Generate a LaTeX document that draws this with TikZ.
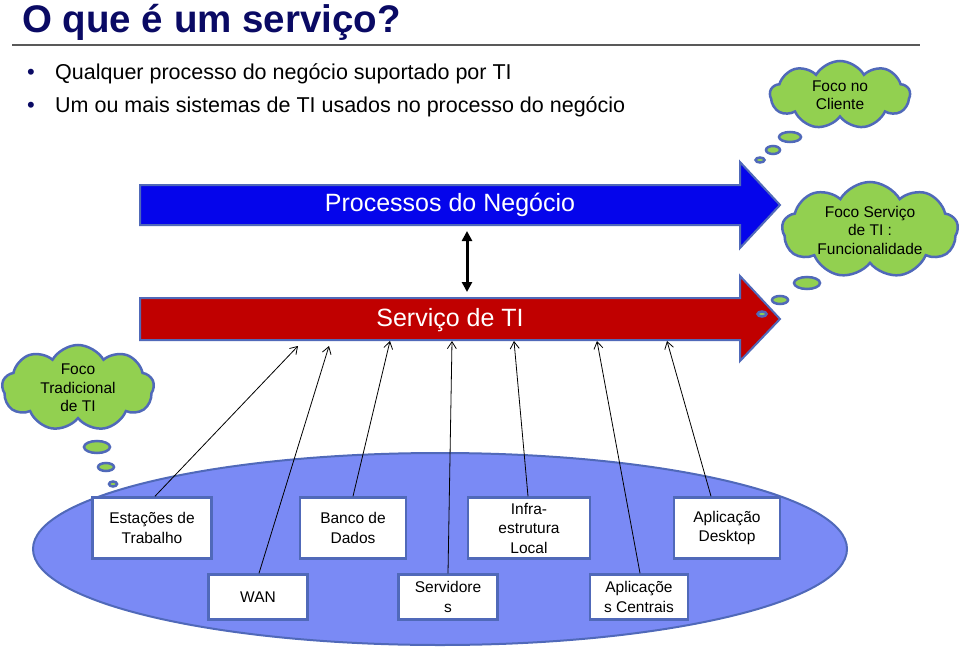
\documentclass[tikz,border=0pt]{standalone}
\usepackage{fontspec}
\setmainfont{Liberation Sans}
\usetikzlibrary{shapes.symbols,shapes.geometric,arrows.meta,calc}
\definecolor{titleblue}{RGB}{10,10,100}
\definecolor{procblue}{RGB}{5,5,235}
\definecolor{servred}{RGB}{192,0,0}
\definecolor{outl}{RGB}{80,105,185}
\definecolor{ellfill}{RGB}{122,138,245}
\definecolor{cloudgreen}{RGB}{146,208,80}
\tikzset{
  bigarrow/.style={draw=outl, line width=2pt, line join=miter},
  arrowtext/.style={text=white, font=\fontsize{25}{30}\selectfont, inner sep=0pt},
  thought/.style={cloud, cloud puffs=9, cloud puff arc=120, cloud ignores aspect, draw=outl, line width=2.5pt, fill=cloudgreen, align=center, inner sep=0pt, font=\fontsize{15.5}{18.5}\selectfont},
  bubble/.style={draw=outl, line width=2.5pt, fill=cloudgreen},
  compbox/.style={draw=outl, line width=2.5pt, fill=white, align=center, inner sep=0pt, font=\fontsize{15.5}{19.5}\selectfont},
  feed/.style={draw=black, line width=0.8pt, -{Straight Barb[length=7pt,width=9pt]}},
  bullettext/.style={anchor=base west, inner sep=0pt, font=\fontsize{21.5}{26}\selectfont},
  bulletdot/.style={anchor=base west, inner sep=0pt, text=titleblue, font=\fontsize{22}{26}\selectfont},
}
\begin{document}
\begin{tikzpicture}[x=1pt,y=-1pt]
\useasboundingbox (0,0) rectangle (960,647);
% title
\node[anchor=base west, inner sep=0pt, text=titleblue, font=\fontsize{38.5}{44}\selectfont\bfseries] (title) at (22,33) {O que é um serviço?};
\draw[line width=2pt, draw=black!65] (12,45) -- (920,45);
% bullets
\node[bulletdot] (b1dot) at (27,80) {•};
\node[bullettext] (b1) at (55,80) {Qualquer processo do negócio suportado por TI};
\node[bulletdot] (b2dot) at (27,113) {•};
\node[bullettext] (b2) at (55,113) {Um ou mais sistemas de TI usados no processo do negócio};
% business process arrow
\draw[bigarrow, fill=procblue] (140,185) -- (740,185) -- (740,162) -- (780,205) -- (740,248) -- (740,225) -- (140,225) -- cycle;
\node[arrowtext] (proc) at (450,205) {Processos do Negócio};
% IT service arrow
\draw[bigarrow, fill=servred] (140,298) -- (740,298) -- (740,276) -- (780,319) -- (740,361) -- (740,340) -- (140,340) -- cycle;
\node[arrowtext] (serv) at (450,320) {Serviço de TI};
% double arrow
\coordinate (dtop) at (467,231);
\coordinate (dbot) at (467,292);
\draw[line width=3pt, {Triangle[length=10pt,width=10pt]}-{Triangle[length=10pt,width=10pt]}] (dtop) -- (dbot);
% clouds
\node[thought, minimum width=140pt, minimum height=68pt] (c1) at (840,95) {Foco no\\Cliente};
\draw[bubble] (790,137) ellipse [x radius=11, y radius=5];
\draw[bubble] (773,150) ellipse [x radius=7, y radius=4];
\draw[bubble] (760,160) ellipse [x radius=4.5, y radius=2.5];
\node[thought, minimum width=176pt, minimum height=96pt] (c2) at (870,230) {Foco Serviço\\de TI :\\Funcionalidade};
\draw[bubble] (807,283) ellipse [x radius=13, y radius=6];
\draw[bubble] (780,300) ellipse [x radius=8, y radius=4];
\draw[bubble] (762,314) ellipse [x radius=4.5, y radius=2.5];
\node[thought, minimum width=152pt, minimum height=86pt] (c3) at (78,388) {Foco\\Tradicional\\de TI};
\draw[bubble] (97,447) ellipse [x radius=13, y radius=6];
\draw[bubble] (106,467) ellipse [x radius=8, y radius=4];
\draw[bubble] (113,484) ellipse [x radius=4, y radius=2.5];
% base ellipse
\draw[draw=outl, line width=2pt, fill=ellfill] (440,549) ellipse [x radius=407, y radius=96];
% component boxes
\node[compbox, minimum width=119pt, minimum height=61pt] (est) at (152,528) {Estações de\\Trabalho};
\node[compbox, minimum width=106pt, minimum height=61pt] (bd) at (353,528) {Banco de\\Dados};
\node[compbox, minimum width=122pt, minimum height=61pt] (inf) at (529,528) {Infra-\\estrutura\\Local};
\node[compbox, minimum width=106pt, minimum height=61pt] (desk) at (727,528) {Aplicação\\Desktop};
\node[compbox, minimum width=99pt, minimum height=45pt] (wan) at (258,597) {WAN};
\node[compbox, minimum width=99pt, minimum height=45pt] (srv) at (448,597) {Servidore\\s};
\node[compbox, minimum width=98pt, minimum height=45pt] (apc) at (639,597) {Aplicaçõe\\s Centrais};
% feed targets on service arrow
\coordinate (t1) at (298,346);
\coordinate (t2) at (329,346);
\coordinate (t3) at (390,341);
\coordinate (t4) at (452,341);
\coordinate (t5) at (514,341);
\coordinate (t6) at (597,341);
\coordinate (t7) at (667,341);
\draw[feed] ([xshift=3pt]est.north) -- (t1);
\draw[feed] ([xshift=1pt]wan.north) -- (t2);
\draw[feed] (bd.north) -- (t3);
\draw[feed] (srv.north) -- (t4);
\draw[feed] ([xshift=-1pt]inf.north) -- (t5);
\draw[feed] ([xshift=1pt]apc.north) -- (t6);
\draw[feed] ([xshift=-16pt]desk.north) -- (t7);
\end{tikzpicture}
\end{document}
